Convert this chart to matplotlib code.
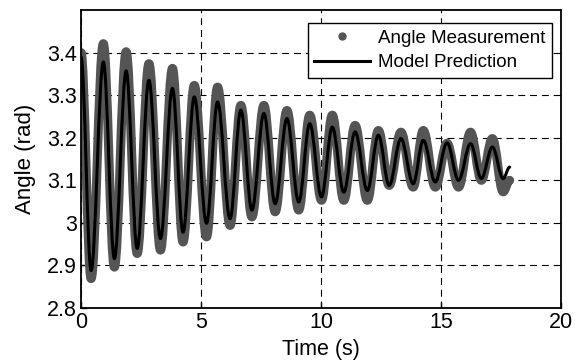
import matplotlib
matplotlib.use("Agg")
import matplotlib.pyplot as plt
from matplotlib.path import Path
from matplotlib.patches import PathPatch
from matplotlib.lines import Line2D

plt.rcParams["font.family"] = ["Liberation Sans", "DejaVu Sans"]
plt.rcParams["lines.scale_dashes"] = False

# turning points (peaks / troughs), seconds
t_ext = [0.00, 0.42, 0.93, 1.39, 1.88, 2.34, 2.83, 3.31, 3.81, 4.25,
         4.72, 5.23, 5.69, 6.21, 6.66, 7.12, 7.62, 8.09, 8.58, 9.07,
         9.53, 10.02, 10.47, 10.95, 11.42, 11.93, 12.39, 12.84, 13.33, 13.84,
         14.26, 14.76, 15.25, 15.73, 16.23, 16.68, 17.14, 17.59, 17.86]
# model prediction at those points (rad)
model_ext = [3.390, 2.888, 3.378, 2.916, 3.357, 2.940, 3.335, 2.963, 3.316, 2.978,
             3.296, 2.999, 3.284, 3.010, 3.265, 3.030, 3.257, 3.045, 3.245, 3.049,
             3.233, 3.061, 3.225, 3.072, 3.214, 3.076, 3.206, 3.088, 3.198, 3.092,
             3.194, 3.096, 3.188, 3.100, 3.186, 3.104, 3.178, 3.104, 3.131]
# measured angle at those points (rad)
meas_ext = [3.400, 2.869, 3.421, 2.896, 3.402, 2.928, 3.374, 2.936, 3.363, 2.955,
            3.323, 2.967, 3.319, 2.994, 3.276, 3.014, 3.276, 3.026, 3.264, 3.030,
            3.253, 3.053, 3.253, 3.053, 3.229, 3.053, 3.217, 3.088, 3.213, 3.084,
            3.217, 3.084, 3.187, 3.084, 3.213, 3.100, 3.198, 3.073, 3.100]

xticks = [0, 5, 10, 15, 20]
yticks = [2.8, 2.9, 3.0, 3.1, 3.2, 3.3, 3.4]
ytick_labels = ["2.8", "2.9", "3", "3.1", "3.2", "3.3", "3.4"]


def swing_path(ts, vs, k=0.3634):
    # smooth half-swings between turning points (flat tangent at each extreme)
    verts = [(ts[0], vs[0])]
    codes = [Path.MOVETO]
    for i in range(len(ts) - 1):
        dt = ts[i + 1] - ts[i]
        verts += [(ts[i] + k * dt, vs[i]), (ts[i + 1] - k * dt, vs[i + 1]), (ts[i + 1], vs[i + 1])]
        codes += [Path.CURVE4] * 3
    return Path(verts, codes)


fig = plt.figure(figsize=(5.85, 3.64), dpi=100)
ax = fig.add_axes([0.1385, 0.1538, 0.8205, 0.8187])

ax.add_patch(PathPatch(swing_path(t_ext, meas_ext), facecolor="none", edgecolor="#555555",
                       lw=6.5, capstyle="round", joinstyle="round", zorder=2))
ax.add_patch(PathPatch(swing_path(t_ext, model_ext), facecolor="none", edgecolor="black",
                       lw=2.2, capstyle="round", joinstyle="round", zorder=3))

ax.set_xlim(0, 20)
ax.set_ylim(2.8, 3.5)
ax.set_xticks(xticks)
ax.set_yticks(yticks)
ax.set_yticklabels(ytick_labels)
ax.tick_params(direction="in", length=4, labelsize=15.5, width=1, pad=3)
ax.grid(True, color="black", ls=(0, (5, 3.5)), lw=0.8)
ax.set_axisbelow(True)
for s in ax.spines.values():
    s.set_linewidth(1.3)

ax.set_xlabel("Time (s)", fontsize=15.5, labelpad=4)
ax.set_ylabel("Angle (rad)", fontsize=16, labelpad=8)

handles = [Line2D([], [], ls="none", marker="o", ms=5, color="#555555"),
           Line2D([], [], color="black", lw=2.2)]
leg = ax.legend(handles, ["Angle Measurement", "Model Prediction"], loc="upper right",
                bbox_to_anchor=(0.981, 0.956), borderaxespad=0,
                fontsize=13.5, fancybox=False, framealpha=1, edgecolor="black",
                handlelength=3.0, handletextpad=0.4, labelspacing=0.4,
                borderpad=0.35)
leg.get_frame().set_linewidth(1.0)

fig.savefig("out.png", dpi=100)
